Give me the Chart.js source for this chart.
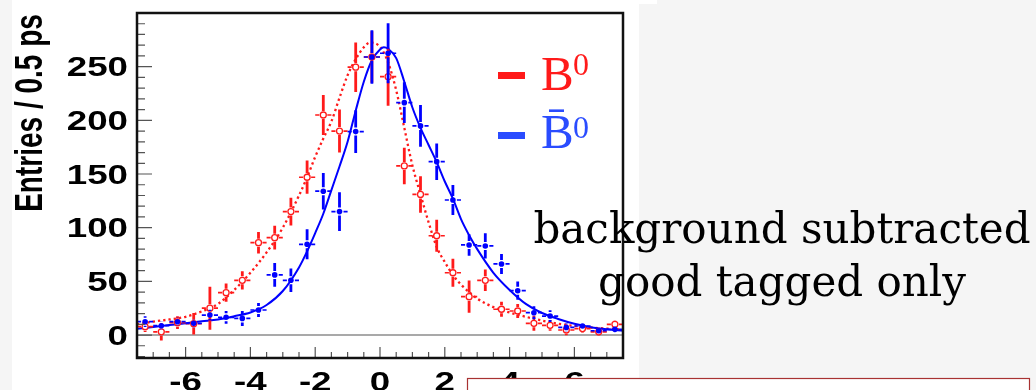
<!DOCTYPE html>
<html><head><meta charset="utf-8">
<script src="https://cdn.jsdelivr.net/npm/chart.js@4"></script>
<style>
html,body{margin:0;padding:0;background:#f5f5f5;width:1036px;height:390px;overflow:hidden;}
canvas{position:absolute;left:0;top:0;}
</style></head><body>
<canvas id="c" width="1036" height="390"></canvas>
<script>
// ---- data ----
const binCenters = [-7.25,-6.75,-6.25,-5.75,-5.25,-4.75,-4.25,-3.75,-3.25,-2.75,-2.25,-1.75,-1.25,-0.75,-0.25,0.25,0.75,1.25,1.75,2.25,2.75,3.25,3.75,4.25,4.75,5.25,5.75,6.25,6.75,7.25];
const b0Values    = [7.8,3,11.5,10.5,25,39.5,51,86,90.7,115,147,205,190,249.5,259,240.7,157.5,131,92.5,58,35.7,51,24,22.4,10.9,9,4.7,6,3,10];
const b0Errors    = [5,8,6,10,20,8.5,8.5,10,11,13,15.5,18.6,20,23,24,27,17,17,15,13,15,10,7,6.5,7,5,5,4,4,4];
const b0barValues = [12.4,8.7,12.4,10.9,18.6,16.5,15.5,23.3,56,51,84.5,134,115,189.5,259,262.5,216.5,194.8,161.5,125.8,83.9,83,66.2,41.3,20.8,17.7,7.1,8.4,4,5.3];
const b0barErrors = [5,4,4,4,5,6,7,6.5,11,11,14,17,18,20,25,28,19,19.5,17,14,10,11.7,9.3,8.5,6,5.5,4,3,3,3];

const b0FitX = [-7.5,-7,-6.5,-6,-5.5,-5,-4.5,-4,-3.5,-3,-2.5,-2.25,-2,-1.75,-1.5,-1.25,-1,-0.75,-0.5,-0.3,0,0.25,0.5,0.75,1,1.25,1.5,1.75,2,2.25,2.5,2.75,3,3.5,4,4.5,5,5.5,6,6.5,7,7.5];
const b0FitY = [10,12.5,14.5,17,22,29,42,58,77,100,130,147,166,183,199,221,242,257,268,272.5,268.5,254,228,193,158,131,105,82,68,56,47,40,34,26,21,17,13.5,10.5,8.5,7,6,5];
const b0barFitX = [-7.5,-7,-6.5,-6,-5.5,-5,-4.5,-4,-3.5,-3,-2.5,-2.25,-2,-1.75,-1.5,-1.25,-1,-0.75,-0.5,-0.25,0,0.12,0.25,0.5,0.75,1,1.25,1.5,1.75,2,2.25,2.5,2.75,3,3.5,4,4.5,5,5.5,6,6.5,7,7.5];
const b0barFitY = [5.8,7.5,9.3,11,12.8,14.5,17.5,21,28,41,63,78,95,113,135,157,180,209,236,256,266,268,266.5,258,236,212,193,177,161,143,127,108,93,80,58,42,29,20.5,15,10.5,7.3,5.3,4];

const xTickLabels = ['-6','-4','-2','0','2','4','6'];
const yTickLabels = ['0','50','100','150','200','250'];
const yTitle = 'Entries / 0.5 ps';
const noteLines = ['background subtracted','good tagged only'];

// ---- build ----
const pts = (xs, ys) => xs.map((x,i)=>({x:x, y:ys[i]}));

const errPlugin = {
  id:'errbars',
  beforeDatasetDraw(chart, args){
    const ds = chart.data.datasets[args.index];
    if(!ds.errs) return;
    const c = chart.ctx, xs = chart.scales.x, ys = chart.scales.y, a = chart.chartArea;
    c.save();
    c.beginPath(); c.rect(a.left, a.top, a.right-a.left, a.bottom-a.top); c.clip();
    c.strokeStyle = ds.errColor;
    const g = 4;
    ds.data.forEach((p,i)=>{
      const px = xs.getPixelForValue(p.x), py = ys.getPixelForValue(p.y);
      const yt = ys.getPixelForValue(p.y + ds.errs[i]), yb = ys.getPixelForValue(p.y - ds.errs[i]);
      const xl = xs.getPixelForValue(p.x - 0.25), xr = xs.getPixelForValue(p.x + 0.25);
      c.lineWidth = 2.8;
      c.beginPath();
      if (py - g > yt) { c.moveTo(px, yt); c.lineTo(px, py - g); }
      if (yb > py + g) { c.moveTo(px, py + g); c.lineTo(px, yb); }
      c.stroke();
      c.lineWidth = 1.7;
      c.beginPath();
      c.moveTo(xl, py); c.lineTo(px - g, py);
      c.moveTo(px + g, py); c.lineTo(xr, py);
      c.stroke();
    });
    c.restore();
  }
};

const decoPlugin = {
  id:'deco',
  beforeDraw(chart){
    const c = chart.ctx;
    c.save();
    c.fillStyle = '#f5f5f5'; c.fillRect(0,0,1036,390);
    c.fillStyle = '#ffffff'; c.fillRect(12,0,627,390); c.fillRect(639,0,18,4);
    c.restore();
  },
  beforeDatasetsDraw(chart){
    const c = chart.ctx, a = chart.chartArea, ys = chart.scales.y;
    const y0 = ys.getPixelForValue(0);
    c.save();
    c.strokeStyle = '#8c8c8c'; c.lineWidth = 1.5;
    c.beginPath(); c.moveTo(a.left, y0); c.lineTo(a.right, y0); c.stroke();
    c.restore();
  },
  afterDatasetsDraw(chart){
    const c = chart.ctx, a = chart.chartArea, xs = chart.scales.x, ys = chart.scales.y;
    c.save();
    // ticks
    c.strokeStyle = '#555'; c.lineWidth = 1.2;
    c.beginPath();
    for (let v = -20; v < 300; v += 10) {
      const py = ys.getPixelForValue(v);
      const len = (v % 50 === 0) ? 15 : 8;
      c.moveTo(a.left, py); c.lineTo(a.left + len, py);
    }
    for (let k = -14; k <= 14; k++) {
      const v = k * 0.5;
      const px = xs.getPixelForValue(v);
      const len = (k % 4 === 0) ? 11 : 6;
      c.moveTo(px, a.bottom); c.lineTo(px, a.bottom - len);
    }
    c.stroke();
    // frame
    c.strokeStyle = '#111'; c.lineWidth = 2.5;
    c.strokeRect(a.left, a.top, a.right - a.left, a.bottom - a.top);
    // y tick labels
    c.fillStyle = '#000';
    c.font = 'bold 27px "Liberation Sans"';
    yTickLabels.forEach(t=>{
      const py = ys.getPixelForValue(parseFloat(t));
      c.save(); c.translate(128, py + 9.7); c.scale(1.36, 1);
      c.textAlign = 'right'; c.textBaseline = 'alphabetic';
      c.fillText(t, 0, 0); c.restore();
    });
    // x tick labels
    xTickLabels.forEach(t=>{
      const px = xs.getPixelForValue(parseFloat(t));
      c.save(); c.translate(px, 391); c.scale(1.36, 1);
      c.textAlign = 'center'; c.textBaseline = 'alphabetic';
      c.fillText(t, 0, 0); c.restore();
    });
    // y title
    c.save(); c.translate(42, 113); c.rotate(-Math.PI/2); c.scale(1, 1.4);
    c.font = 'bold 28px "Liberation Sans"'; c.textAlign = 'center'; c.textBaseline = 'alphabetic';
    c.fillText(yTitle, 0, 0); c.restore();
    // legend
    c.fillStyle = '#ff1a1a'; c.fillRect(498, 72, 27, 7);
    c.font = '49px "Liberation Serif"'; c.textAlign = 'left'; c.textBaseline = 'alphabetic';
    c.fillText('B', 541, 90);
    c.font = '32px "Liberation Serif"'; c.fillText('0', 573, 75);
    c.fillStyle = '#2a4cff'; c.fillRect(498, 132, 27, 7);
    c.font = '49px "Liberation Serif"'; c.fillText('B\u0304', 541, 148);
    c.font = '32px "Liberation Serif"'; c.fillText('0', 573, 138);
    // note text
    c.fillStyle = '#000'; c.font = '42px "DejaVu Serif"'; c.textAlign = 'center';
    c.fillText(noteLines[0], 782, 243);
    c.fillText(noteLines[1], 782, 296);
    // box bottom right
    c.fillStyle = '#ffffff'; c.fillRect(467, 378, 563, 20);
    c.strokeStyle = '#a83232'; c.lineWidth = 1.2;
    c.strokeRect(467.5, 378.5, 562, 30);
    c.restore();
  }
};

new Chart(document.getElementById('c').getContext('2d'), {
  type: 'scatter',
  data: { datasets: [
    { label:'B0bar', data: pts(binCenters, b0barValues), errs: b0barErrors, errColor:'#0000ff', order:0,
      pointStyle:'circle', pointRadius:2.8, pointBorderWidth:0, backgroundColor:'#0000ff', borderColor:'#0000ff', showLine:false },
    { label:'B0', data: pts(binCenters, b0Values), errs: b0Errors, errColor:'#ff1a1a', order:1,
      pointStyle:'circle', pointRadius:3, pointBorderWidth:1.3, backgroundColor:'#ffffff', borderColor:'#ff1a1a', showLine:false },
    { label:'B0bar fit', data: pts(b0barFitX, b0barFitY), order:2, showLine:true, pointRadius:0,
      borderColor:'#0000ff', borderWidth:2, cubicInterpolationMode:'monotone', fill:false },
    { label:'B0 fit', data: pts(b0FitX, b0FitY), order:3, showLine:true, pointRadius:0,
      borderColor:'#ff1a1a', borderWidth:2.3, borderDash:[2.3,3], cubicInterpolationMode:'monotone', fill:false }
  ]},
  options: {
    responsive:false, animation:false, devicePixelRatio:1, events:[],
    layout:{ padding:{ left:137, top:13, right:413, bottom:32 } },
    plugins:{ legend:{display:false}, tooltip:{enabled:false} },
    scales:{
      x:{ type:'linear', min:-7.5, max:7.5, display:false },
      y:{ type:'linear', min:-21.4, max:300, display:false }
    }
  },
  plugins:[decoPlugin, errPlugin]
});
</script>
</body></html>
